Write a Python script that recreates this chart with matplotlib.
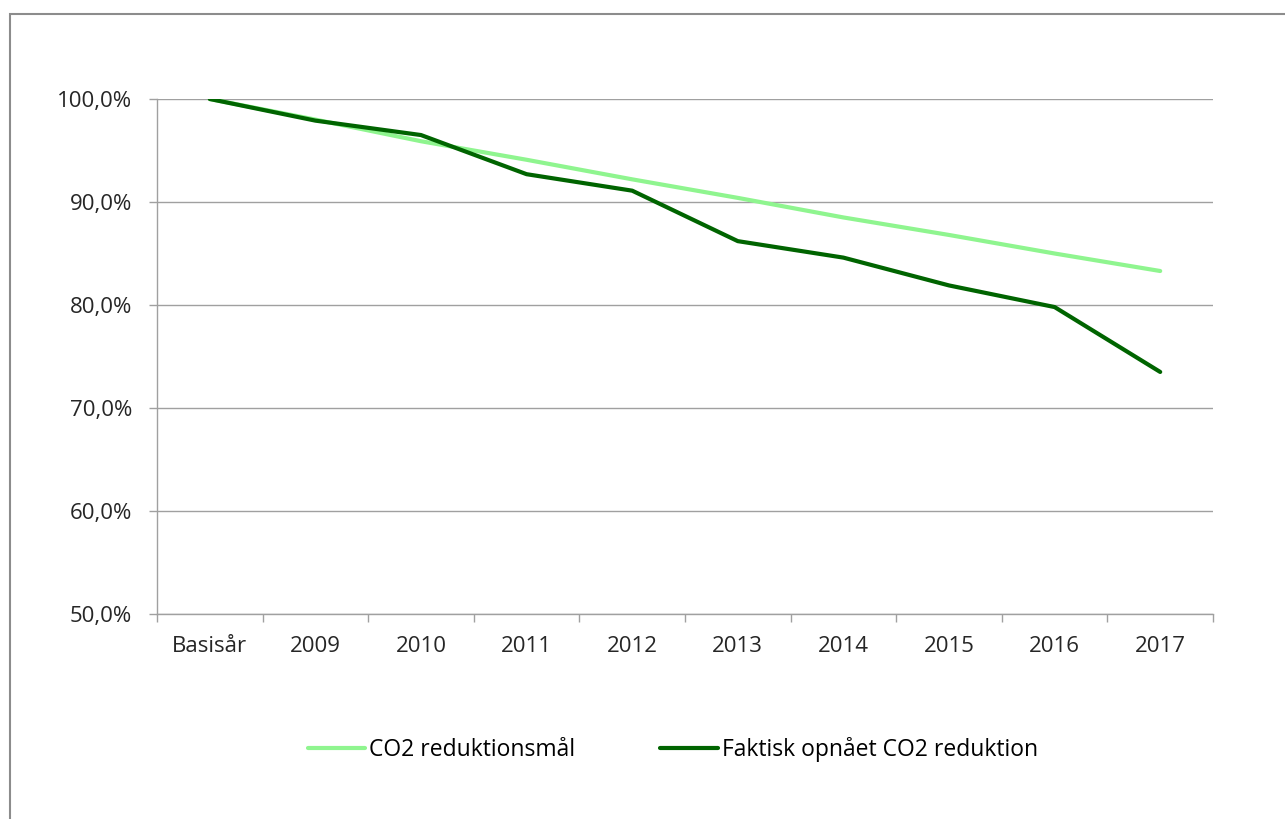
import numpy as np
import matplotlib.pyplot as plt
from matplotlib.patches import Rectangle
from matplotlib.ticker import FuncFormatter, FixedLocator

categories = ["Basisår", "2009", "2010", "2011", "2012", "2013", "2014", "2015", "2016", "2017"]
target = [100.0, 98.0, 95.9, 94.1, 92.2, 90.4, 88.5, 86.8, 85.0, 83.3]
actual = [100.0, 97.9, 96.5, 92.7, 91.1, 86.2, 84.6, 81.9, 79.8, 73.5]

plt.rcParams['font.family'] = ['Open Sans', 'DejaVu Sans']

fig = plt.figure(figsize=(12.85, 8.19), dpi=100)
W, H = 1285, 819
ax = fig.add_axes([157 / W, 1 - 614 / H, (1213 - 157) / W, (614 - 99) / H])

# outer chart border (cropped at right/bottom)
fig.patches.append(Rectangle((10 / W, -0.1), 1.2, 1 - 14 / H + 0.1, transform=fig.transFigure,
                             fill=False, edgecolor='#8c8c8c', linewidth=1.5))

x = np.arange(len(categories))
ax.plot(x, target, color='#8ff58f', linewidth=3, solid_capstyle='round', label='CO2 reduktionsmål')
ax.plot(x, actual, color='#006400', linewidth=3, solid_capstyle='round', label='Faktisk opnået CO2 reduktion')

ax.set_xlim(-0.5, len(categories) - 0.5)
ax.set_ylim(50, 100)
ax.set_yticks(np.arange(50, 101, 10))
ax.yaxis.set_major_formatter(FuncFormatter(lambda v, p: f"{v:.1f}%".replace('.', ',')))
ax.yaxis.grid(True, color='#a0a0a0', linewidth=1)
ax.set_axisbelow(True)

ax.xaxis.set_major_locator(FixedLocator(np.arange(-0.5, len(categories), 1)))
ax.xaxis.set_major_formatter(FuncFormatter(lambda v, p: ''))
ax.set_xticks(x, minor=True)
ax.set_xticklabels(categories, minor=True)
ax.tick_params(axis='x', which='major', length=6, color='#a0a0a0', width=1)
ax.tick_params(axis='x', which='minor', length=0, pad=16, labelsize=16, labelcolor='#262626')
ax.tick_params(axis='y', length=6, color='#a0a0a0', width=1, labelsize=16, labelcolor='#262626', pad=12)

for s in ['top', 'right']:
    ax.spines[s].set_visible(False)
for s in ['left', 'bottom']:
    ax.spines[s].set_color('#a0a0a0')
    ax.spines[s].set_linewidth(1)

fig.legend(loc='center', bbox_to_anchor=(673 / W, 1 - 750 / H), ncol=2, frameon=False,
           fontsize=16.5, handlelength=2.5, handletextpad=0.2, columnspacing=3.7)

fig.savefig('out.png', dpi=100)
